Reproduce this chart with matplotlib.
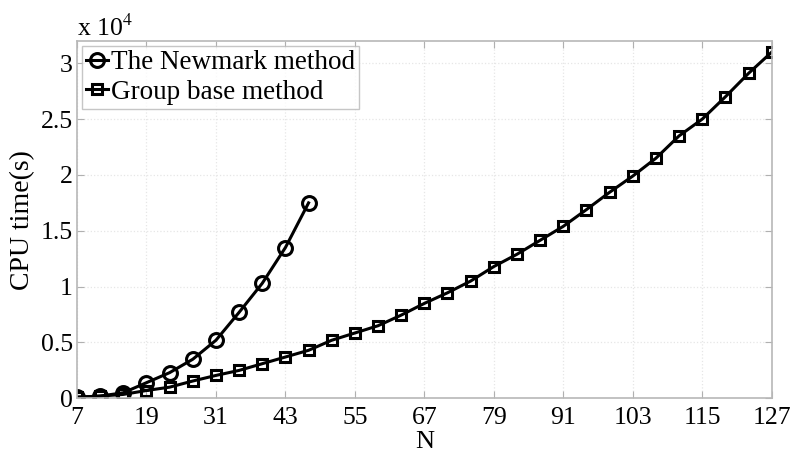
import matplotlib
matplotlib.use("Agg")
import matplotlib.pyplot as plt
import numpy as np

plt.rcParams['font.family'] = ['Liberation Serif', 'DejaVu Serif']
plt.rcParams['mathtext.fontset'] = 'stix'

n_newmark = [7, 11, 15, 19, 23, 27, 31, 35, 39, 43, 47]
t_newmark = [0.01, 0.02, 0.05, 0.14, 0.23, 0.35, 0.52, 0.77, 1.03, 1.35, 1.75]  # x 10^4

n_group = list(range(7, 128, 4))
t_group = [0.01, 0.02, 0.035, 0.07, 0.10, 0.155, 0.205, 0.25, 0.31, 0.37, 0.43,
           0.52, 0.585, 0.65, 0.745, 0.85, 0.945, 1.05, 1.18, 1.29, 1.415, 1.54,
           1.69, 1.845, 1.99, 2.15, 2.35, 2.50, 2.70, 2.91, 3.10]

xticks = [7, 19, 31, 43, 55, 67, 79, 91, 103, 115, 127]
yticks = [0, 0.5, 1, 1.5, 2, 2.5, 3]
ytick_labels = ['0', '0.5', '1', '1.5', '2', '2.5', '3']

fig = plt.figure(figsize=(7.98, 4.59), dpi=100)
ax = fig.add_axes([0.0965, 0.1322, 0.8705, 0.7785])

ax.plot(n_newmark, t_newmark, color='black', lw=2.2, marker='o', ms=10,
        mfc='none', mew=2.2, label='The Newmark method')
ax.plot(n_group, t_group, color='black', lw=2.2, marker='s', ms=7,
        mfc='none', mew=2.2, label='Group base method')

ax.set_xlim(7, 127)
ax.set_ylim(0, 3.2)
ax.set_xticks(xticks)
ax.set_yticks(yticks)
ax.set_yticklabels(ytick_labels)
ax.tick_params(direction='in', top=True, right=True, labelsize=18.5, color='#b0b0b0',
               length=5)
ax.tick_params(axis='x', pad=6)
ax.tick_params(axis='y', pad=3)
for s in ax.spines.values():
    s.set_color('#b8b8b8')
    s.set_linewidth(1.2)
ax.grid(True, color='#e6e6e6', linestyle=':', linewidth=0.9)

ax.set_xlabel('N', fontsize=19)
ax.xaxis.set_label_coords(0.5, -0.092)
ax.set_ylabel('CPU time(s)', fontsize=20, labelpad=4)
fig.text(0.0965, 0.921, r'x 10$^4$', fontsize=18.5, ha='left', va='baseline')

leg = ax.legend(loc='upper left', fontsize=19.5, frameon=True, fancybox=False,
                handlelength=0.8, handletextpad=0.1, borderpad=0.15,
                labelspacing=0.15, borderaxespad=0.2)
leg.get_frame().set_edgecolor('#b8b8b8')
leg.get_frame().set_linewidth(1.0)

fig.savefig('out.png', dpi=100)
